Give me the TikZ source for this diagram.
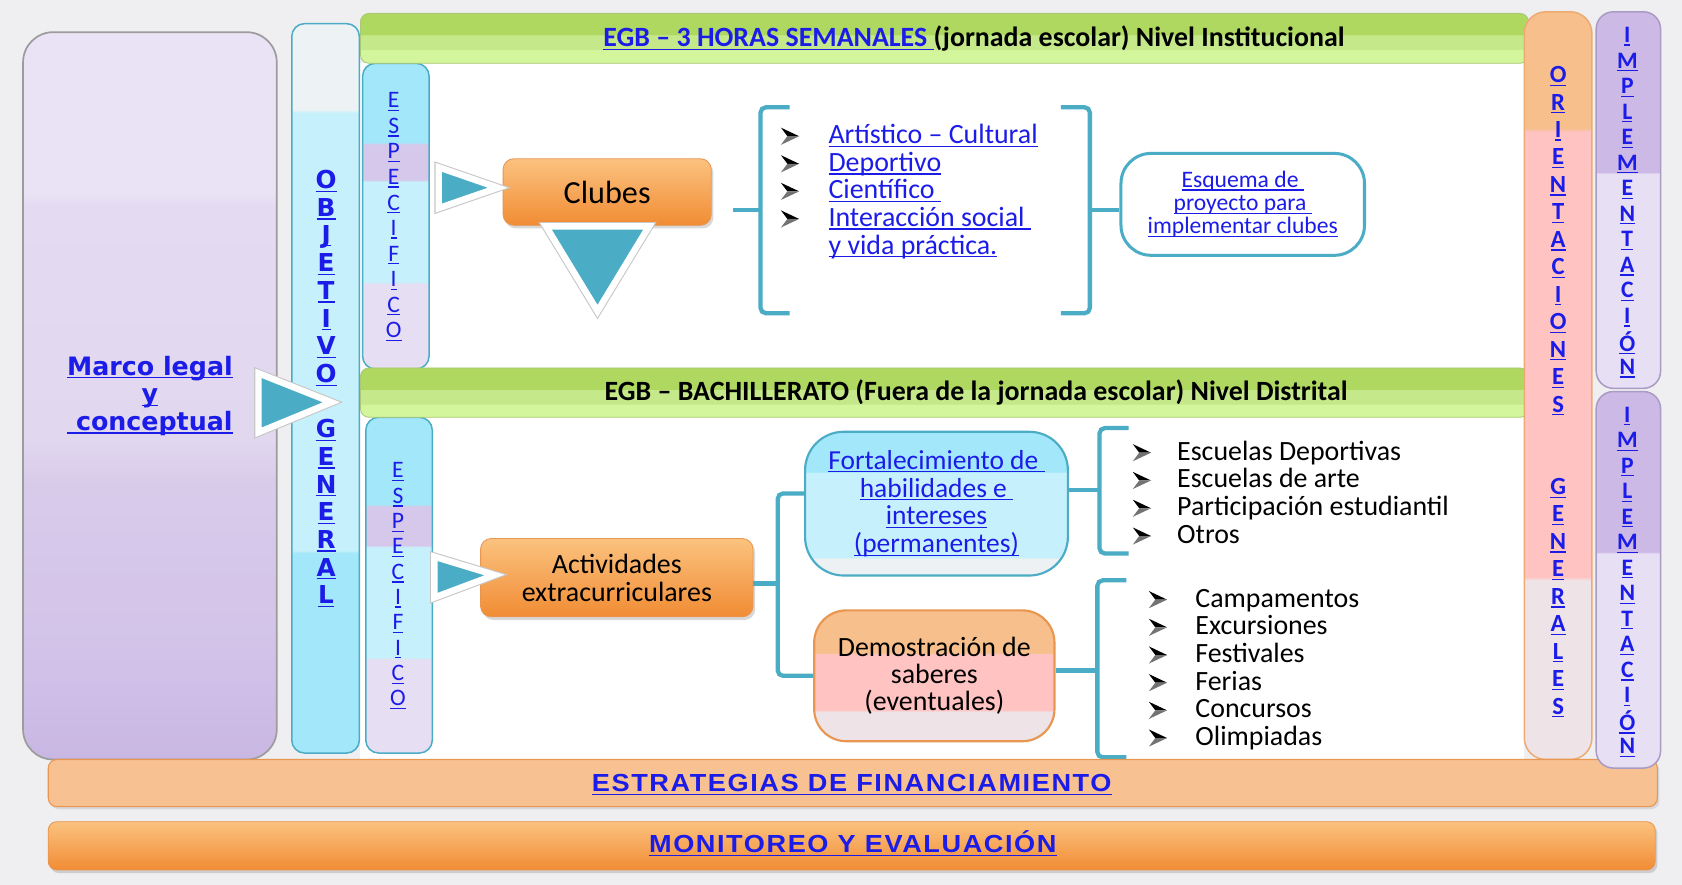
\documentclass[tikz,border=0pt]{standalone}
\usepackage{fontspec}
\setmainfont{Carlito}
\newfontfamily\verdfont{DejaVu Sans}
\newfontfamily\arialfont[LetterSpace=6.4,FakeStretch=1.1]{Liberation Sans}
\usetikzlibrary{shadows}

\definecolor{linkblue}{RGB}{28,28,232}
\definecolor{tealc}{RGB}{75,172,198}
\definecolor{bgg}{RGB}{239,239,241}
% lavender / cyan / orange tones
\definecolor{mvA}{RGB}{234,227,245}
\definecolor{mvA2}{RGB}{228,218,241}
\definecolor{mvB2}{RGB}{225,215,239}
\definecolor{mvB}{RGB}{216,203,234}
\definecolor{mvC}{RGB}{211,195,233}
\definecolor{mvD}{RGB}{201,183,227}
\definecolor{marcoD}{RGB}{156,156,156}
\definecolor{cyA}{RGB}{163,232,250}
\definecolor{cyL}{RGB}{198,240,251}
\definecolor{paleC}{RGB}{237,243,245}
\definecolor{paleC2}{RGB}{238,241,243}
\definecolor{lavM}{RGB}{213,200,234}
\definecolor{lavL}{RGB}{230,222,242}
\definecolor{lavD}{RGB}{205,185,230}
\definecolor{lavL2}{RGB}{231,223,244}
\definecolor{implD}{RGB}{169,155,195}
\definecolor{peach}{RGB}{246,191,140}
\definecolor{pinkC}{RGB}{255,195,194}
\definecolor{grayP}{RGB}{238,227,231}
\definecolor{orD}{RGB}{232,150,80}
\definecolor{orT}{RGB}{251,194,127}
\definecolor{orM}{RGB}{249,167,88}
\definecolor{orB}{RGB}{241,140,52}
\definecolor{orF}{RGB}{248,193,145}
\definecolor{grD}{RGB}{174,216,95}
\definecolor{grM}{RGB}{197,233,138}
\definecolor{grL}{RGB}{211,245,155}
\definecolor{grE}{RGB}{170,200,120}

\pgfdeclareverticalshading{marcoshade}{100bp}{color(0bp)=(mvD); color(25bp)=(mvD); color(33bp)=(mvC); color(44bp)=(mvB); color(47bp)=(mvB2); color(63bp)=(mvA2); color(64bp)=(mvA); color(100bp)=(mvA)}
\pgfdeclareverticalshading{objshade}{100bp}{color(0bp)=(cyA); color(38.7bp)=(cyA); color(38.9bp)=(cyL); color(68.9bp)=(cyL); color(69.1bp)=(paleC); color(100bp)=(paleC)}
\pgfdeclareverticalshading{espshade}{100bp}{color(0bp)=(lavL); color(39bp)=(lavL); color(39.2bp)=(cyL); color(55.7bp)=(cyL); color(55.9bp)=(lavM); color(61.8bp)=(lavM); color(62bp)=(cyA); color(100bp)=(cyA)}
\pgfdeclareverticalshading{orshade}{100bp}{color(0bp)=(grayP); color(37bp)=(grayP); color(37.2bp)=(pinkC); color(67bp)=(pinkC); color(67.2bp)=(peach); color(100bp)=(peach)}
\pgfdeclareverticalshading{implshade}{100bp}{color(0bp)=(lavL2); color(53.5bp)=(lavL2); color(53.7bp)=(lavD); color(100bp)=(lavD)}
\pgfdeclareverticalshading{greenshade}{100bp}{color(0bp)=(grL); color(38.3bp)=(grL); color(38.5bp)=(grM); color(53.3bp)=(grM); color(53.5bp)=(grD); color(100bp)=(grD)}
\pgfdeclareverticalshading{fortshade}{100bp}{color(0bp)=(paleC2); color(31bp)=(paleC2); color(31.2bp)=(cyL); color(60.8bp)=(cyL); color(61bp)=(cyA); color(100bp)=(cyA)}
\pgfdeclareverticalshading{demoshade}{100bp}{color(0bp)=(grayP); color(36.5bp)=(grayP); color(36.7bp)=(pinkC); color(58.5bp)=(pinkC); color(58.7bp)=(peach); color(100bp)=(peach)}

\newsavebox\ulbox
\newcommand\uln[1]{\sbox\ulbox{#1}\rlap{\rule[-1.5pt]{\wd\ulbox}{0.6pt}}\usebox\ulbox}

\tikzset{arrowbul/.pic={
  \fill[black] (0,0) -- (-17,8) -- (-11,0) -- cycle;
  \fill[black!55] (0,0) -- (-17,-8) -- (-11,0) -- cycle;}}

\begin{document}
\begin{tikzpicture}[x=0.5pt,y=0.5pt,yscale=-1,
  bar/.style={draw=tealc, line width=0.7pt, rounded corners=6pt, inner sep=0pt},
  letter/.style={text=linkblue, inner sep=0pt},
  box/.style={rounded corners=5pt, inner sep=0pt, align=center},
  orbox/.style={box, draw=orD, line width=0.4pt, top color=orT, middle color=orM, bottom color=orB, drop shadow={opacity=0.3, shadow xshift=1pt, shadow yshift=-1.5pt}},
  brk/.style={draw=tealc, line width=2pt, rounded corners=2.5pt},
  tri/.style={fill=tealc, draw=white, line width=3pt, line join=miter, preaction={draw=black!22, line width=4pt}},
  item/.style={anchor=base west, inner sep=0pt, font=\fontsize{13}{13}\selectfont},
]
%Background
\fill[bgg] (0,0) rectangle (1568,825);
\path[use as bounding box] (0,0) rectangle (1568,825);
\fill[white] (336,59) rectangle (1421,708);

%Shape: Marco legal
\node[box, rounded corners=14pt, draw=marcoD, line width=0.8pt, shading=marcoshade, minimum width=118.25pt, minimum height=339pt, text=linkblue, font=\verdfont\bfseries\fontsize{11.8}{12.9}\selectfont] (marco) at (139.75,369) {\uln{Marco legal}\\\uln{y}\\\uln{~conceptual}};

%Shape: vertical bars
\node[bar, shading=objshade, minimum width=31.5pt, minimum height=340pt] (objgen) at (303.5,362) {};
\node[bar, shading=espshade, minimum width=31pt, minimum height=142.5pt] (esp1) at (369,201.5) {};
\node[bar, shading=espshade, minimum width=31pt, minimum height=156.5pt] (esp2) at (372,545.5) {};

%Shape: green bands
\node[box, rounded corners=4pt, draw=grE, line width=0.4pt, shading=greenshade, minimum width=544.5pt, minimum height=23.25pt] (band1) at (880.5,35.75) {};
\node[box, rounded corners=4pt, draw=grE, line width=0.4pt, shading=greenshade, minimum width=544.5pt, minimum height=23pt] (band2) at (880.5,366) {};
\node[anchor=base, inner sep=0pt, font=\bfseries\fontsize{13}{13}\selectfont] (title1) at (908,43.5) {{\color{linkblue}\uln{EGB – 3 HORAS SEMANALES }}(jornada escolar) Nivel Institucional};
\node[anchor=base, inner sep=0pt, font=\bfseries\fontsize{13}{13}\selectfont] (title2) at (910,373) {EGB – BACHILLERATO (Fuera de la jornada escolar) Nivel Distrital};

%Shape: orientaciones
\node[box, rounded corners=10pt, draw=orD!80, line width=0.7pt, shading=orshade, minimum width=31.5pt, minimum height=348.5pt] (orient) at (1452.5,359.5) {};

%Shape: boxes
\node[orbox, minimum width=97pt, minimum height=31pt, font=\fontsize{15}{15}\selectfont] (clubes) at (566,179) {Clubes};
\node[box, rounded corners=14pt, draw=tealc, line width=1.4pt, fill=white, minimum width=113.5pt, minimum height=47.5pt, text=linkblue, font=\fontsize{11}{10.8}\selectfont] (esquema) at (1158.5,190.5) {\uln{Esquema de }\\\uln{proyecto para }\\\uln{implementar clubes}};
\node[orbox, minimum width=127pt, minimum height=36.5pt, font=\fontsize{13}{13}\selectfont] (activ) at (575,538.5) {Actividades\\extracurriculares};
\node[box, rounded corners=18pt, draw=tealc, line width=1pt, shading=fortshade, minimum width=122.5pt, minimum height=67pt, text=linkblue, font=\fontsize{12.8}{13}\selectfont] (fort) at (873,469.5) {\uln{Fortalecimiento de }\\\uln{habilidades e }\\\uln{intereses}\\\uln{(permanentes)}};
\node[box, rounded corners=15pt, draw=orD, line width=1pt, shading=demoshade, minimum width=112pt, minimum height=61pt, font=\fontsize{13}{12.75}\selectfont] (demo) at (871,630) {Demostración de\\saberes\\(eventuales)};

%Brackets
\coordinate (k1) at (709,196);
\draw[brk] (736,100) -| (k1) |- (736,292);
\draw[brk] (k1) -- (683,196);
\coordinate (k2) at (1016,196);
\draw[brk] (989,100) -| (k2) |- (989,292);
\draw[brk] (k2) -- (esquema.west |- k2);
\coordinate (k3) at (725,544);
\draw[brk] (activ.east |- k3) -- (k3);
\draw[brk] (fort.west |- 0,460) -| (k3) |- (demo.west);
\coordinate (k4) at (1025,457);
\draw[brk] (1052,399) -| (k4) |- (1052,516);
\draw[brk] (fort.east |- k4) -- (k4);
\coordinate (k5) at (1023,625);
\draw[brk] (1050,541) -| (k5) |- (1050,706);
\draw[brk] (demo.east |- k5) -- (k5);

%Shape: bottom bands and implementacion
\node[box, rounded corners=4pt, draw=orD, line width=0.5pt, fill=orF, minimum width=750pt, minimum height=22pt, drop shadow={opacity=0.2, shadow xshift=1pt, shadow yshift=-1.2pt}] (estrat) at (795,730) {};
\node[box, rounded corners=8pt, draw=implD, line width=0.7pt, shading=implshade, minimum width=30pt, minimum height=175.5pt] (impl1) at (1518,186.5) {};
\node[box, rounded corners=8pt, draw=implD, line width=0.7pt, shading=implshade, minimum width=30pt, minimum height=175.5pt] (impl2) at (1518,540.5) {};
\node[orbox, rounded corners=4pt, minimum width=749pt, minimum height=22.5pt] (monit) at (794,788.5) {};
\node[anchor=base, inner sep=0pt, text=linkblue, font=\arialfont\bfseries\fontsize{11.5}{11.5}\selectfont] (estrattxt) at (794,738) {\uln{ESTRATEGIAS DE FINANCIAMIENTO}};
\node[anchor=base, inner sep=0pt, text=linkblue, font=\arialfont\bfseries\fontsize{11.5}{11.5}\selectfont] (monittxt) at (795,795) {\uln{MONITOREO Y EVALUACIÓN}};

%Triangles
\draw[tri] (241,348) -- (241,403) -- (309,375) -- cycle;
\draw[tri] (409,156) -- (409,194) -- (464,175) -- cycle;
\draw[tri] (509,211) -- (605,211) -- (557,290) -- cycle;
\draw[tri] (405,519) -- (405,557) -- (461,536) -- cycle;

%Vertical letters
\foreach \c [count=\i from 0] in {O,B,J,E,T,I,V,O}
  \node[letter, font=\verdfont\bfseries\fontsize{11.5}{11.5}\selectfont] (og\i) at (304,{169+25.8*\i}) {\uln{\c}};
\foreach \c [count=\i from 9] in {G,E,N,E,R,A,L}
  \node[letter, font=\verdfont\bfseries\fontsize{11.5}{11.5}\selectfont] (og\i) at (304,{169+25.8*\i}) {\uln{\c}};
\foreach \c [count=\i from 0] in {E,S,P,E,C,I,F,I,C,O}{
  \node[letter, font=\fontsize{11}{11}\selectfont] (ea\i) at (367,{95+23.8*\i}) {\uln{\c}};
  \node[letter, font=\fontsize{11}{11}\selectfont] (eb\i) at (371,{440+23.6*\i}) {\uln{\c}};
}
\foreach \c [count=\i from 0] in {O,R,I,E,N,T,A,C,I,O,N,E,S}
  \node[letter, font=\bfseries\fontsize{11.5}{11.5}\selectfont] (or\i) at (1452.5,{71+25.6*\i}) {\uln{\c}};
\foreach \c [count=\i from 15] in {G,E,N,E,R,A,L,E,S}
  \node[letter, font=\bfseries\fontsize{11.5}{11.5}\selectfont] (or\i) at (1452.5,{71+25.6*\i}) {\uln{\c}};
\foreach \c [count=\i from 0] in {I,M,P,L,E,M,E,N,T,A,C,I,Ó,N}{
  \node[letter, font=\bfseries\fontsize{11}{11}\selectfont] (ia\i) at (1517,{34+23.8*\i}) {\uln{\c}};
  \node[letter, font=\bfseries\fontsize{11}{11}\selectfont] (ib\i) at (1517,{388+23.77*\i}) {\uln{\c}};
}

%Lists
\foreach \t [count=\i from 0] in {Artístico – Cultural, Deportivo, Científico\ , Interacción social\ }{
  \pic (ba\i) at (745,{127+25.7*\i}) {arrowbul};
  \node[item, text=linkblue] (la\i) at (772,{134+25.7*\i}) {\uln{\t}};
}
\node[item, text=linkblue] (la4) at (772,236.8) {\uln{y vida práctica.}};
\foreach \t [count=\i from 0] in {Escuelas Deportivas, Escuelas de arte, Participación estudiantil, Otros}{
  \pic (bb\i) at (1073,{422+25.9*\i}) {arrowbul};
  \node[item] (lb\i) at (1097,{429+25.9*\i}) {\t};
}
\foreach \t [count=\i from 0] in {Campamentos, Excursiones, Festivales, Ferias, Concursos, Olimpiadas}{
  \pic (bc\i) at (1088,{559+25.8*\i}) {arrowbul};
  \node[item] (lc\i) at (1114,{566+25.8*\i}) {\t};
}

\end{tikzpicture}
\end{document}
